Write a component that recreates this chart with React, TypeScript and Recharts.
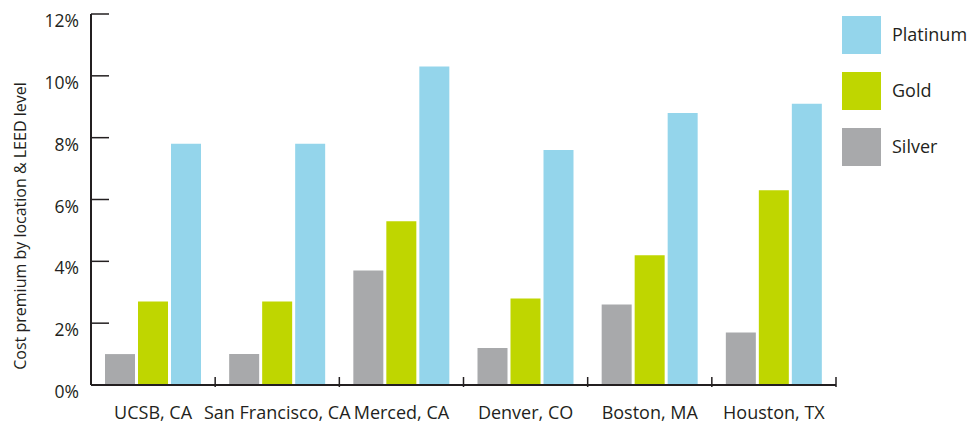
import { BarChart, Bar, XAxis, YAxis, Legend } from 'recharts';

const locations = ['UCSB, CA', 'San Francisco, CA', 'Merced, CA', 'Denver, CO', 'Boston, MA', 'Houston, TX'];
const silver = [1.0, 1.0, 3.7, 1.2, 2.6, 1.7];
const gold = [2.7, 2.7, 5.3, 2.8, 4.2, 6.3];
const platinum = [7.8, 7.8, 10.3, 7.6, 8.8, 9.1];
const yTicks = [0, 2, 4, 6, 8, 10, 12];

const legendItems = [
  { name: 'Platinum', color: '#94d5eb' },
  { name: 'Gold', color: '#bfd600' },
  { name: 'Silver', color: '#a8a9ab' },
];

const data = locations.map((loc, i) => ({
  loc,
  silver: silver[i],
  gold: gold[i],
  platinum: platinum[i],
}));

const FONT = '"Open Sans", sans-serif';
const INK = '#231f20';
const W = 979;
const H = 423;
const AXIS_W = 91;
const RIGHT = 143;
const BAND = (W - AXIS_W - RIGHT) / locations.length;

function YTick({ x, y, payload }: any) {
  const ax = x + 12;
  return (
    <g>
      <line x1={ax} x2={ax + 18} y1={y} y2={y} stroke={INK} strokeWidth={1.5} />
      <text x={x} y={y + 13} textAnchor="end" fontSize={17.5} fontFamily={FONT} fill={INK}>
        {payload.value}%
      </text>
    </g>
  );
}

function XTick({ x, y, payload }: any) {
  const bx = x + BAND / 2;
  return (
    <g>
      <line x1={bx} x2={bx} y1={y} y2={y - 10} stroke={INK} strokeWidth={1.5} />
      <text x={x} y={y + 32} textAnchor="middle" fontSize={18} fontFamily={FONT} fill={INK}>
        {payload.value}
      </text>
    </g>
  );
}

function LegendBox() {
  return (
    <div style={{ width: 137, fontFamily: FONT, color: INK }}>
      {legendItems.map(it => (
        <div key={it.name} style={{ display: 'flex', alignItems: 'center', height: 38, marginBottom: 18 }}>
          <div style={{ width: 39, height: 38, background: it.color }} />
          <span style={{ marginLeft: 11, fontSize: 18, marginTop: -3 }}>{it.name}</span>
        </div>
      ))}
    </div>
  );
}

function YLabel() {
  const cx = 20;
  const cy = 226;
  return (
    <text
      x={cx}
      y={cy}
      transform={`rotate(-90, ${cx}, ${cy})`}
      textAnchor="middle"
      dominantBaseline="central"
      fontSize={16}
      fontFamily={FONT}
      fill={INK}
    >
      Cost premium by location &amp; LEED level
    </text>
  );
}

export default function App() {
  return (
    <div style={{ width: W, height: H, background: '#fff' }}>
      <style>{`body{margin:0}`}</style>
      <BarChart
        width={W}
        height={H}
        data={data}
        margin={{ top: 14, right: 6, left: 0, bottom: 0 }}
        barSize={30}
        barGap={3}
      >
        <XAxis
          dataKey="loc"
          height={38}
          interval={0}
          tickLine={false}
          tickSize={0}
          tick={<XTick />}
          axisLine={{ stroke: INK, strokeWidth: 2 }}
        />
        <YAxis
          width={AXIS_W}
          domain={[0, 12]}
          ticks={yTicks}
          tickLine={false}
          tickSize={0}
          tickMargin={12}
          tick={<YTick />}
          axisLine={{ stroke: INK, strokeWidth: 2 }}
          label={<YLabel />}
        />
        <Legend
          layout="vertical"
          align="right"
          verticalAlign="top"
          content={<LegendBox />}
          wrapperStyle={{ top: 16, left: 842, right: 'auto' }}
        />
        <Bar dataKey="silver" name="Silver" fill="#a8a9ab" isAnimationActive={false} />
        <Bar dataKey="gold" name="Gold" fill="#bfd600" isAnimationActive={false} />
        <Bar dataKey="platinum" name="Platinum" fill="#94d5eb" isAnimationActive={false} />
      </BarChart>
    </div>
  );
}
